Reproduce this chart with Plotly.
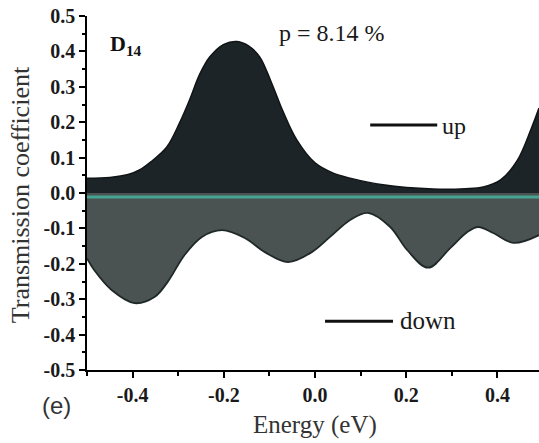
import plotly.graph_objects as go

# ---- data ----
energy_up = [-0.50, -0.45, -0.41, -0.385, -0.36, -0.325, -0.297, -0.275, -0.253, -0.231,
             -0.20, -0.171, -0.145, -0.121, -0.095, -0.07, -0.04, 0.0, 0.04, 0.077, 0.149,
             0.259, 0.33, 0.369, 0.407, 0.444, 0.473, 0.4912]
t_up = [0.042, 0.044, 0.052, 0.065, 0.088, 0.13, 0.198, 0.263, 0.335, 0.384,
        0.42, 0.428, 0.415, 0.384, 0.31, 0.23, 0.15, 0.085, 0.056, 0.042, 0.023,
        0.011, 0.012, 0.017, 0.037, 0.093, 0.178, 0.24]

energy_down = [-0.50, -0.484, -0.446, -0.396, -0.352, -0.323, -0.286, -0.248, -0.204, -0.154,
               -0.11, -0.059, -0.007, 0.033, 0.077, 0.116, 0.165, 0.202, 0.248, 0.297,
               0.334, 0.358, 0.391, 0.435, 0.4912]
t_down = [-0.185, -0.218, -0.274, -0.311, -0.294, -0.251, -0.175, -0.124, -0.105, -0.127,
          -0.167, -0.195, -0.167, -0.124, -0.076, -0.056, -0.096, -0.161, -0.211, -0.155,
          -0.110, -0.096, -0.113, -0.141, -0.119]

baseline_energy = [-0.5, 0.4912]
baseline_value = [-0.011, -0.011]

y_ticks = [0.5, 0.4, 0.3, 0.2, 0.1, 0.0, -0.1, -0.2, -0.3, -0.4, -0.5]
y_labels = ["0.5", "0.4", "0.3", "0.2", "0.1", "0.0", "-0.1", "-0.2", "-0.3", "-0.4", "-0.5"]
x_ticks = [-0.4, -0.2, 0.0, 0.2, 0.4]
x_labels = ["-0.4", "-0.2", "0.0", "0.2", "0.4"]

SERIF = "Liberation Serif, Times New Roman, serif"

fig = go.Figure()
fig.add_trace(go.Scatter(x=energy_down, y=t_down, mode="lines", line=dict(color="#1f2927", width=1.8, shape="spline"),
                         fill="tozeroy", fillcolor="#4a5352", showlegend=False, hoverinfo="skip"))
fig.add_trace(go.Scatter(x=baseline_energy, y=baseline_value, mode="lines",
                         line=dict(color="#45a592", width=3), showlegend=False, hoverinfo="skip"))
fig.add_trace(go.Scatter(x=energy_up, y=t_up, mode="lines", line=dict(color="#101416", width=1.5, shape="spline"),
                         fill="tozeroy", fillcolor="#1c2427", showlegend=False, hoverinfo="skip"))

axis_common = dict(showgrid=False, zeroline=False, showline=True, linecolor="black", linewidth=1.5,
                   ticks="outside", tickcolor="black", tickwidth=2, ticklen=6,
                   tickfont=dict(family=SERIF, size=20, color="#1a1a1a", weight="bold"))

fig.update_xaxes(range=[-0.5, 0.4912], tickmode="array", tickvals=x_ticks, ticktext=x_labels,
                 minor=dict(tickmode="linear", tick0=0, dtick=0.1, ticks="outside", ticklen=4, tickwidth=2, tickcolor="black"),
                 **axis_common)
fig.update_yaxes(range=[-0.5, 0.5], tickmode="array", tickvals=y_ticks, ticktext=y_labels,
                 minor=dict(tickmode="linear", tick0=0, dtick=0.05, ticks="outside", ticklen=3, tickwidth=1.5, tickcolor="black"),
                 **axis_common)

# legend-like marks
fig.add_shape(type="line", x0=0.121, x1=0.268, y0=0.192, y1=0.192, xref="x", yref="y",
              line=dict(color="#111", width=3))
fig.add_shape(type="line", x0=0.022, x1=0.171, y0=-0.362, y1=-0.362, xref="x", yref="y",
              line=dict(color="#111", width=3))

annotations = [
    dict(x=0.275, y=0.188, xref="x", yref="y", text="up", showarrow=False, xanchor="left", yanchor="middle",
         font=dict(family=SERIF, size=24, color="#1a1a1a")),
    dict(x=0.181, y=-0.36, xref="x", yref="y", text="down", showarrow=False, xanchor="left", yanchor="middle",
         font=dict(family=SERIF, size=25, color="#1a1a1a")),
    dict(x=-0.455, y=0.418, xref="x", yref="y", text="<b>D</b><sub><b>14</b></sub>", showarrow=False,
         xanchor="left", yanchor="middle", font=dict(family=SERIF, size=22, color="#111")),
    dict(x=-0.083, y=0.452, xref="x", yref="y", text="p = 8.14 %", showarrow=False,
         xanchor="left", yanchor="middle", font=dict(family=SERIF, size=24, color="#1a1a1a")),
    dict(x=-0.103, y=-0.099, xref="paper", yref="paper", text="(e)", showarrow=False,
         xanchor="left", yanchor="middle", font=dict(family="Liberation Sans, Arial, sans-serif", size=24, color="#333")),
    dict(x=-0.148, y=0.494, xref="paper", yref="paper", text="Transmission coefficient", showarrow=False,
         textangle=-90, xanchor="center", yanchor="middle", font=dict(family=SERIF, size=26, color="#333")),
    dict(x=0.504, y=-0.155, xref="paper", yref="paper", text="Energy (eV)", showarrow=False,
         xanchor="center", yanchor="middle", font=dict(family=SERIF, size=25, color="#333")),
]
fig.update_layout(width=539, height=443, margin=dict(l=87, r=0, t=16, b=73),
                  paper_bgcolor="white", plot_bgcolor="white", annotations=annotations, showlegend=False)

fig.write_html("out.html")
